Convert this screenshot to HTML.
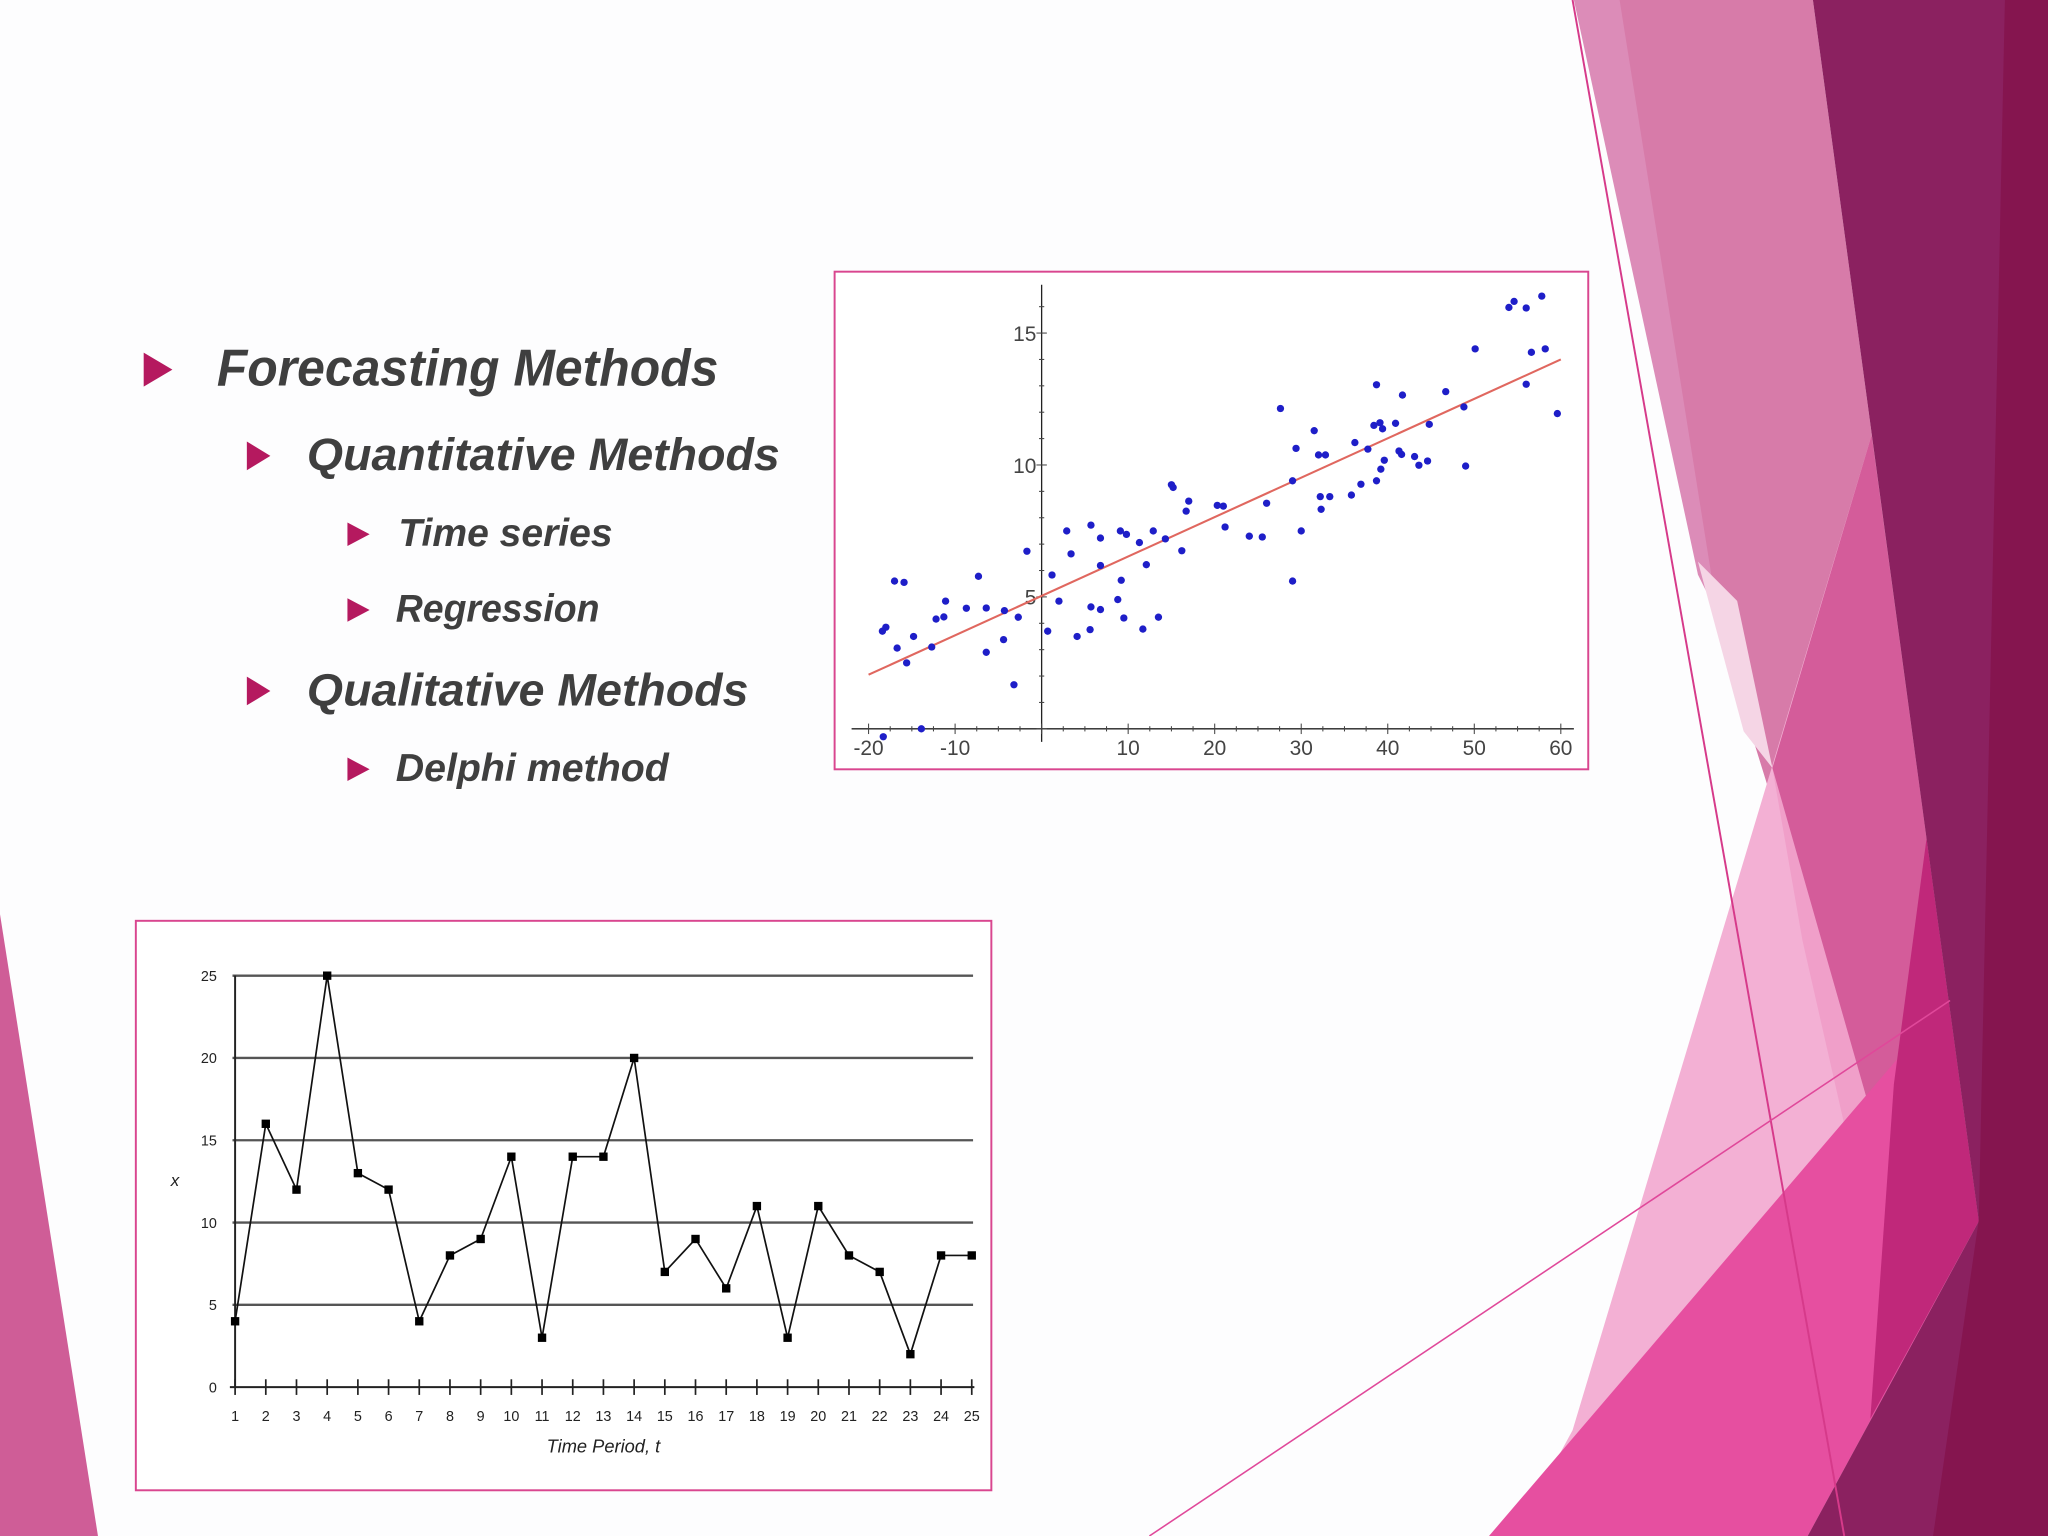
<!DOCTYPE html>
<html><head><meta charset="utf-8"><style>
html,body{margin:0;padding:0;background:#fff;}
svg{display:block;}
text{font-family:"Liberation Sans",sans-serif;}
</style></head><body>
<svg id="slide" width="2048" height="1536" viewBox="0 0 1568 1176" xmlns="http://www.w3.org/2000/svg">
<rect x="0" y="0" width="1568" height="1176" fill="#fdfdfe"/>
<g>
  <polygon points="1212,0 1388,0 1475,642 1515,935 1448,907 1300,430" fill="#d77ba9"/>
  <polygon points="1205,0 1240,0 1315,470 1300,440" fill="#dc8cb8"/>
  <polygon points="1300,430 1330,460 1357,588 1335,560" fill="#f5d5e5"/>
  <polygon points="1433,333 1515,935 1384,1176 1160,1176 1204,1095" fill="#f3b0d4"/>
  <polygon points="1357,588 1448,907 1430,940 1380,720" fill="#f09fc9"/>
  <polygon points="1433,333 1475,642 1515,935 1448,907 1357,588" fill="#d45c9a"/>
  <polygon points="1491,766 1515,935 1384,1176 1140,1176" fill="#e64fa0"/>
  <polygon points="1475,642 1515,935 1432,1086 1450,830" fill="#c0287a"/>
  <polygon points="1388,0 1568,0 1568,1176 1384,1176 1515,935 1475,642" fill="#8b2160"/>
  <polygon points="1535,0 1568,0 1568,1176 1480,1176 1515,934" fill="#85154f"/>
  <line x1="1204" y1="0" x2="1412" y2="1176" stroke="#d63a8a" stroke-width="1.5"/>
  <line x1="880" y1="1176" x2="1493" y2="766" stroke="#e0489a" stroke-width="1.2"/>
</g>
<polygon points="0,700 75,1176 0,1176" fill="#cf5d97"/>

<g fill="#3f3f3f" font-weight="bold" font-style="italic">
  <polygon points="110,270 132,283 110,296" fill="#b5195f"/>
  <text x="166" y="295" font-size="40" textLength="384" lengthAdjust="spacingAndGlyphs">Forecasting Methods</text>
  <polygon points="189,338 207,349 189,360" fill="#b5195f"/>
  <text x="235" y="360" font-size="35" textLength="362" lengthAdjust="spacingAndGlyphs">Quantitative Methods</text>
  <polygon points="266,400 283,409 266,418" fill="#b5195f"/>
  <text x="305" y="418" font-size="30" textLength="164" lengthAdjust="spacingAndGlyphs">Time series</text>
  <polygon points="266,458 283,467 266,476" fill="#b5195f"/>
  <text x="303" y="476" font-size="30" textLength="156" lengthAdjust="spacingAndGlyphs">Regression</text>
  <polygon points="189,518 207,529 189,540" fill="#b5195f"/>
  <text x="235" y="540" font-size="35" textLength="338" lengthAdjust="spacingAndGlyphs">Qualitative Methods</text>
  <polygon points="266,580 283,589 266,598" fill="#b5195f"/>
  <text x="303" y="598" font-size="30" textLength="209" lengthAdjust="spacingAndGlyphs">Delphi method</text>
</g>

<g id="scatter">
  <rect x="639" y="208" width="577" height="381" fill="#fff" stroke="#d9468f" stroke-width="1.5"/>
</g>
<g id="linechart">
  <rect x="104" y="705" width="655" height="436" fill="#fff" stroke="#d9468f" stroke-width="1.5"/>
</g>
</svg>
<script>
// ---------- Scatter data ----------
const scatterX = [-18.4,-18,-17,-15.9,-16.7,-15.6,-14.8,-18.3,-13.9,-12.7,-12.2,-11.3,-11.1,-8.7,-7.3,-6.4,-6.4,-4.4,-4.3,-3.2,-2.7,-1.7,0.7,1.2,2,2.9,3.4,4.1,5.6,5.7,5.7,6.8,6.8,6.8,8.8,9.1,9.2,9.5,9.8,11.3,11.7,12.1,12.9,13.5,14.3,15,15.2,16.2,16.7,17,20.3,21,21.2,24,25.5,26,27.6,29,29,29.4,30,31.5,32,32.8,32.3,32.2,33.3,35.8,36.2,36.9,37.7,38.4,38.7,38.7,39.1,39.2,39.4,39.6,40.9,41.3,41.6,41.7,43.1,43.6,44.6,44.8,46.7,48.8,49,50.1,54,54.6,56,56,56.6,57.8,58.2,59.6];
const scatterY = [3.7,3.85,5.6,5.55,3.06,2.5,3.5,-0.3,0,3.1,4.16,4.24,4.84,4.57,5.78,4.58,2.9,3.38,4.48,1.67,4.23,6.73,3.7,5.83,4.84,7.5,6.63,3.5,3.76,4.62,7.72,7.23,6.19,4.52,4.9,7.5,5.63,4.2,7.37,7.06,3.78,6.22,7.5,4.23,7.2,9.25,9.15,6.75,8.25,8.63,8.47,8.44,7.65,7.3,7.27,8.55,12.14,5.6,9.4,10.63,7.5,11.3,10.38,10.38,8.32,8.8,8.8,8.86,10.85,9.27,10.6,11.5,13.04,9.4,11.6,9.84,11.37,10.18,11.58,10.53,10.4,12.65,10.32,9.99,10.15,11.54,12.78,12.2,9.96,14.4,15.97,16.2,15.95,13.06,14.27,16.4,14.4,11.95];
const fitX = [-20, 60];
const fitY = [2.05, 14.0];
const scatterXTicks = [-20,-10,10,20,30,40,50,60];
const scatterXTickLabels = ["-20","-10","10","20","30","40","50","60"];
const scatterYTicks = [5,10,15];
const scatterYTickLabels = ["5","10","15"];

// ---------- Time series data ----------
const periods = [1,2,3,4,5,6,7,8,9,10,11,12,13,14,15,16,17,18,19,20,21,22,23,24,25];
const seriesX = [4,16,12,25,13,12,4,8,9,14,3,14,14,20,7,9,6,11,3,11,8,7,2,8,8];
const lineYTicks = [0,5,10,15,20,25];
const lineYTickLabels = ["0","5","10","15","20","25"];

const NS = "http://www.w3.org/2000/svg";
function mk(tag, attrs, parent){const e=document.createElementNS(NS,tag);for(const k in attrs)e.setAttribute(k,attrs[k]);parent.appendChild(e);return e;}

const sx = v => 797.5 + v*6.625;
const sy = v => 558 - v*20.2;
const sg = document.getElementById('scatter');
let a1 = mk('line',{x1:652,y1:sy(0),x2:1205,y2:sy(0),stroke:'#222','stroke-width':1},sg);


let a2 = mk('line',{x1:sx(0),y1:218,x2:sx(0),y2:568,stroke:'#222','stroke-width':1},sg);


for(let v=-20; v<=60; v+=2.5){
  const t = mk('line',{x1:sx(v),y1:sy(0)-(v%10===0?4:2),x2:sx(v),y2:sy(0)+(v%10===0?4:2),stroke:'#444','stroke-width':0.8},sg);
  
  
}
for(let v=0; v<=16; v+=1){
  const t = mk('line',{x1:sx(0)-(v%5===0?4:2),y1:sy(v),x2:sx(0)+(v%5===0?4:2),y2:sy(v),stroke:'#444','stroke-width':0.8},sg);
  
  
}
scatterXTicks.forEach((v,i)=>{
  const t = mk('text',{x:sx(v),y:578,'font-size':16,'text-anchor':'middle',fill:'#444'},sg);
  t.textContent = scatterXTickLabels[i];
  
  
});
scatterYTicks.forEach((v,i)=>{
  const t = mk('text',{x:sx(0)-4,y:sy(v)+6,'font-size':16,'text-anchor':'end',fill:'#444'},sg);
  t.textContent = scatterYTickLabels[i];
  
  
});
const fl = mk('line',{x1:sx(fitX[0]),y1:sy(fitY[0]),x2:sx(fitX[1]),y2:sy(fitY[1]),stroke:'#e0675f','stroke-width':1.6},sg);


scatterX.forEach((v,i)=>{
  const c = mk('circle',{cx:sx(v),cy:sy(scatterY[i]),r:2.8,fill:'#1e1ec8'},sg);
  
  
});

const lx = t => 180 + (t-1)*23.5;
const ly = v => 1062 - v*12.6;
const lg = document.getElementById('linechart');
lineYTicks.forEach((v,i)=>{
  if(v>0){
    const g = mk('line',{x1:178,y1:ly(v),x2:745,y2:ly(v),stroke:'#555','stroke-width':1.8},lg);
    
    
  }
  const t = mk('text',{x:166,y:ly(v)+4,'font-size':11,'text-anchor':'end',fill:'#222'},lg);
  t.textContent = lineYTickLabels[i];
  
  
});
const ya = mk('line',{x1:180,y1:ly(25),x2:180,y2:ly(0),stroke:'#222','stroke-width':1.5},lg);


const xa = mk('line',{x1:176,y1:ly(0),x2:746,y2:ly(0),stroke:'#222','stroke-width':1.5},lg);


periods.forEach(t=>{
  const k = mk('line',{x1:lx(t),y1:ly(0)-6,x2:lx(t),y2:ly(0)+6,stroke:'#222','stroke-width':1.3},lg);
  
  
  const l = mk('text',{x:lx(t),y:1088,'font-size':11,'text-anchor':'middle',fill:'#222'},lg);
  l.textContent = String(t);
  
  
});
const pl = mk('polyline',{points:periods.map((t,i)=>lx(t)+','+ly(seriesX[i])).join(' '),fill:'none',stroke:'#111','stroke-width':1.3},lg);


periods.forEach((t,i)=>{
  const m = mk('rect',{x:lx(t)-3.2,y:ly(seriesX[i])-3.2,width:6.4,height:6.4,fill:'#000'},lg);
  
  
});
const yt = mk('text',{x:134,y:908,'font-size':13,'font-style':'italic','text-anchor':'middle',fill:'#222'},lg);
yt.textContent = 'x';


const xt = mk('text',{x:462,y:1112,'font-size':14,'font-style':'italic','text-anchor':'middle',fill:'#222'},lg);
xt.textContent = 'Time Period, t';


</script>
</body></html>
